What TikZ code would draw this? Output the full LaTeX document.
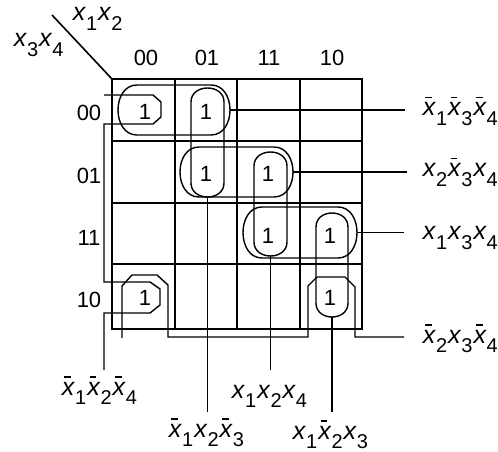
\documentclass[tikz,border=0pt]{standalone}
\usepackage{fontspec}
\setmainfont{Liberation Sans}
\newcommand\xs[1]{\textit{x}\raisebox{-9.5pt}{\fontsize{20}{20}\selectfont #1}\kern1pt}
\newcommand\xb[1]{\rlap{\kern2.5pt\rule[17.5pt]{6.5pt}{1.2pt}}\xs{#1}}
% horizontal loop: name, left, top, right, bottom, end depth
\newcommand\hloop[6]{%
  \draw[lnk] ({#2+#6},#3) -- ({#4-#6},#3)
    .. controls ({#4+#6/3},#3) and ({#4+#6/3},#5) .. ({#4-#6},#5)
    -- ({#2+#6},#5)
    .. controls ({#2-#6/3},#5) and ({#2-#6/3},#3) .. cycle;
  \coordinate (#1e) at (#4,{(#3+#5)/2});}
% vertical loop: name, left, top, right, bottom, end depth
\newcommand\vloop[6]{%
  \draw[lnk] (#2,{#3+#6}) -- (#2,{#5-#6})
    .. controls (#2,{#5+#6/3}) and (#4,{#5+#6/3}) .. (#4,{#5-#6})
    -- (#4,{#3+#6})
    .. controls (#4,{#3-#6/3}) and (#2,{#3-#6/3}) .. cycle;
  \coordinate (#1s) at ({(#2+#4)/2},#5);}
\begin{document}
\begin{tikzpicture}[x=1pt,y=-1pt,line width=1.6pt,
  lbl/.style={inner sep=0pt,font=\fontsize{25}{28}\selectfont},
  hdr/.style={inner sep=0pt,font=\fontsize{22}{24}\selectfont},
  one/.style={inner sep=0pt,font=\fontsize{22}{24}\selectfont},
  lnk/.style={line width=1.4pt}]
\useasboundingbox (0,0) rectangle (498,452);
% grid
\draw (112,79) rectangle (362,329);
\draw (175,79) -- (175,329) (237,79) -- (237,329) (300,79) -- (300,329);
\draw (112,141) -- (362,141) (112,203) -- (362,203) (112,264) -- (362,264);
\coordinate (corner) at (112,79);
\coordinate (diag) at (52,15);
\draw (diag) -- (corner);
% variable labels
\node[lbl,anchor=base west] (v12) at (72,21) {\xs1\xs2};
\node[lbl,anchor=base west] (v34) at (13,47) {\xs3\xs4};
% column headers
\node[hdr,anchor=base] (c00) at (146,66) {00};
\node[hdr,anchor=base] (c01) at (207,66) {01};
\node[hdr,anchor=base] (c11) at (269,66) {11};
\node[hdr,anchor=base] (c10) at (332,66) {10};
% row headers
\node[hdr,anchor=base] (r00) at (89,120) {00};
\node[hdr,anchor=base] (r01) at (89,183) {01};
\node[hdr,anchor=base] (r11) at (89,245) {11};
\node[hdr,anchor=base] (r10) at (89,307) {10};
% ones
\node[one] (m0) at (145,112) {1};
\node[one] (m4) at (206,112) {1};
\node[one] (m5) at (206,174) {1};
\node[one] (m13) at (268,174) {1};
\node[one] (m15) at (268,236) {1};
\node[one] (m11) at (330,236) {1};
\node[one] (m10) at (330,298) {1};
\node[one] (m2) at (145,298) {1};
% groups
\hloop{A}{118}{85}{230}{135}{19}
\vloop{B}{191}{88}{224}{197}{14}
\hloop{C}{180}{147}{293}{197}{19}
\vloop{D}{254}{152}{287}{256}{14}
\hloop{E}{243}{207}{357}{258}{19}
\vloop{F}{316}{213}{348}{317}{14}
% wrap-around groups
\coordinate (hS) at (104,95);
\coordinate (hE) at (104,370);
\draw[lnk] (hS) -- (153,95) -- (161,102) -- (161,117) -- (153,124) -- (104,124)
  -- (104,282) -- (150,282) -- (160,289) -- (160,305) -- (150,313) -- (104,313) -- (hE);
\coordinate (gS) at (122,338);
\coordinate (gE) at (404,337);
\draw[lnk] (gS) -- (122,286) -- (132,275) -- (157,275) -- (168,285) -- (168,337)
  -- (308,337) -- (308,286) -- (317,277) -- (345,277) -- (355,287) -- (355,337) -- (gE);
% connector ends
\coordinate (eA) at (405,110);
\coordinate (eB) at (207.5,412);
\coordinate (eC) at (407,172);
\coordinate (eD) at (270.5,370);
\coordinate (eE) at (404,232.5);
\coordinate (eF) at (332,412);
\draw[lnk] (Ae) -- (eA);
\draw[lnk] (Bs) -- (eB);
\draw[lnk] (Ce) -- (eC);
\draw[lnk] (Ds) -- (eD);
\draw[lnk] (Ee) -- (eE);
\draw[lnk] (Fs) -- (eF);
% term labels
\node[lbl,anchor=base west] (tA) at (422,115.5) {\xb1\xb3\xb4};
\node[lbl,anchor=base west] (tC) at (422,176.5) {\xs2\xb3\xs4};
\node[lbl,anchor=base west] (tE) at (422,239.5) {\xs1\xs3\xs4};
\node[lbl,anchor=base west] (tG) at (422,343) {\xb2\xs3\xb4};
\node[lbl,anchor=base] (tH) at (100,395) {\xb1\xb2\xb4};
\node[lbl,anchor=base] (tB) at (207,437) {\xb1\xs2\xb3};
\node[lbl,anchor=base] (tD) at (270,398) {\xs1\xs2\xs4};
\node[lbl,anchor=base] (tF) at (331,439) {\xs1\xb2\xs3};
\end{tikzpicture}
\end{document}
